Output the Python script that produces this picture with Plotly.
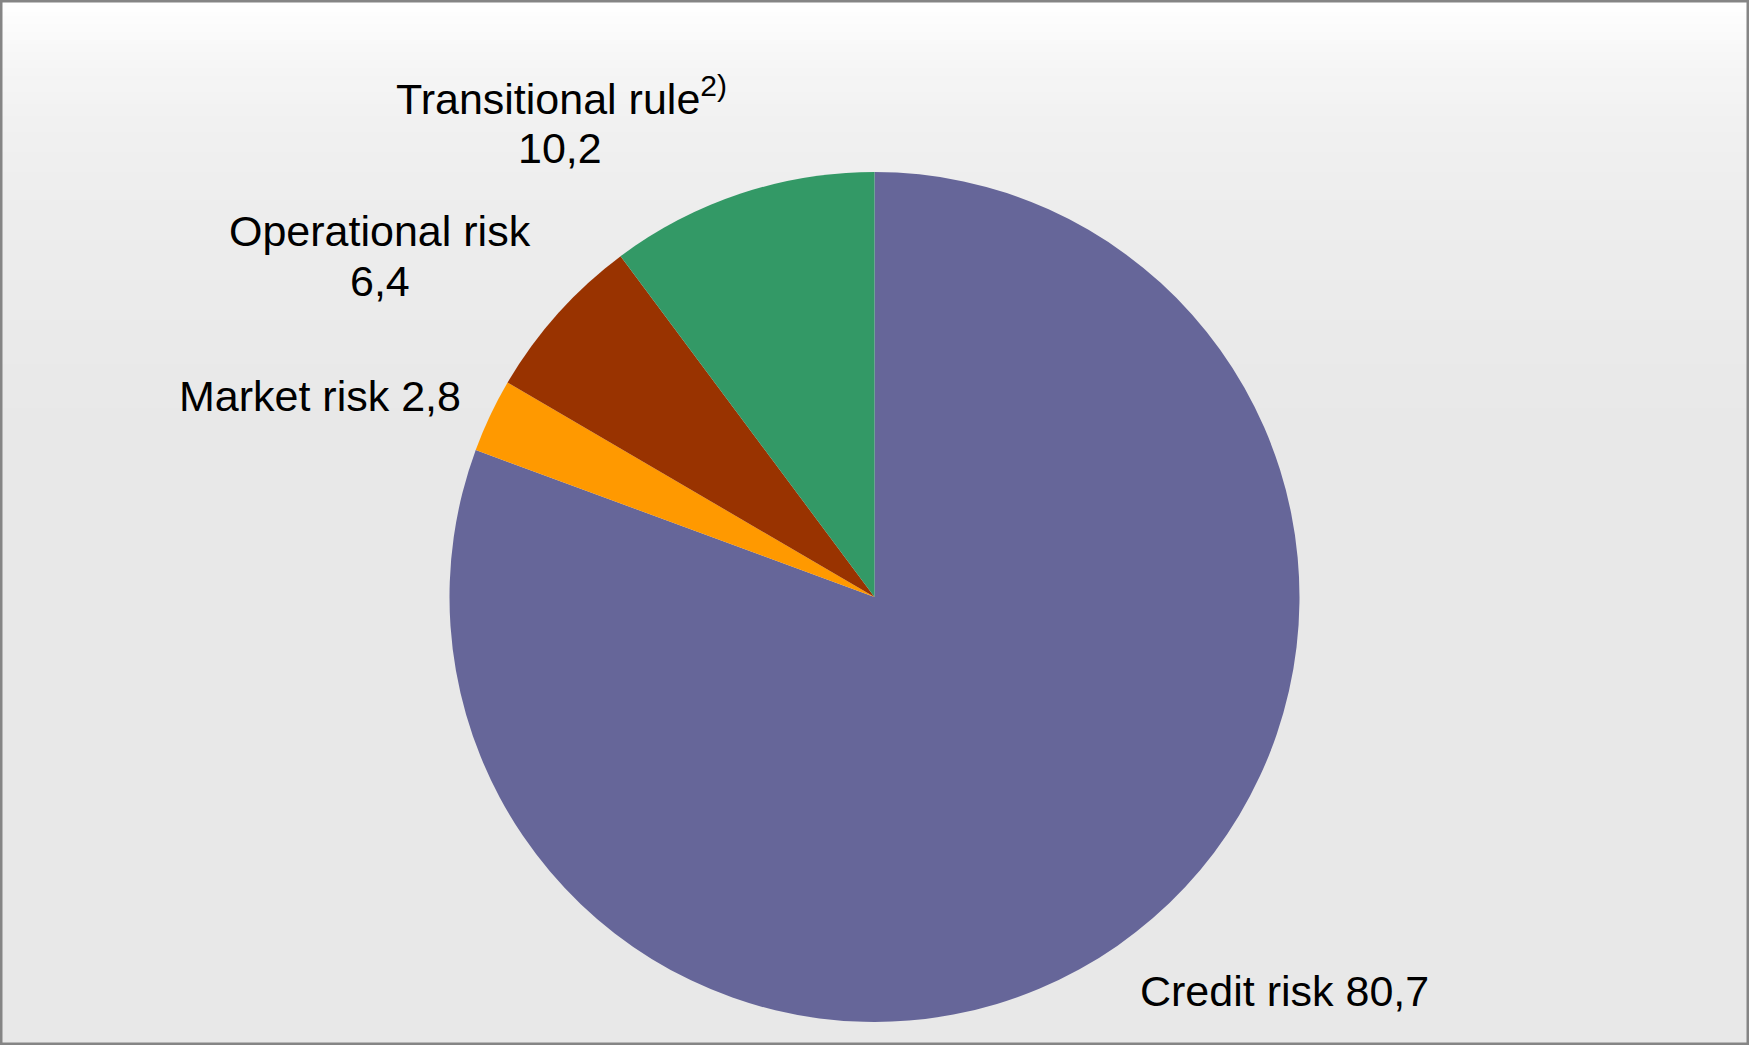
import numpy as np
import plotly.graph_objects as go

# ---- data ----
categories = ["Credit risk", "Market risk", "Operational risk", "Transitional rule"]
values = [80.7, 2.8, 6.4, 10.2]
label_suffix = ["", "", "", "<sup>2)</sup>"]
colors = ["#666699", "#FF9900", "#993300", "#339966"]

W, H = 1749, 1045
FONT = "Arial, Liberation Sans, sans-serif"
FS = 43


def fmt(v):
    return f"{v:.1f}".replace(".", ",")


fig = go.Figure(
    go.Pie(
        labels=categories,
        values=values,
        marker=dict(colors=colors, line=dict(width=0)),
        sort=False,
        direction="clockwise",
        rotation=0,
        textinfo="none",
        hoverinfo="label+value",
        showlegend=False,
        domain=dict(x=[449.5 / W, 1299.5 / W], y=[23 / H, 873 / H]),
    )
)

# ---- background gradient (white at top fading to light gray) ----
stops_y = [0, 35, 70, 125, 180, 300, 430, 1045]
stops_c = [255, 250, 245, 241, 238, 235, 232, 232]
shapes = []
edges = np.arange(0, 440, 4)
for i in range(len(edges) - 1):
    y0, y1 = edges[i], edges[i + 1] + 1
    c = int(round(np.interp((y0 + y1) / 2, stops_y, stops_c)))
    shapes.append(dict(type="rect", xref="paper", yref="paper", x0=0, x1=1,
                       y0=1 - y1 / H, y1=1 - y0 / H, fillcolor=f"rgb({c},{c},{c})",
                       line=dict(width=0), layer="below"))
# border
shapes.append(dict(type="rect", xref="paper", yref="paper", x0=0, x1=1, y0=0, y1=1,
                   line=dict(color="#858585", width=5), fillcolor="rgba(0,0,0,0)", layer="above"))

# ---- labels (text built from the data arrays) ----
# (pixel centre x, pixel middle y) for each text line
label_lines = {
    0: [(f"{categories[0]} {fmt(values[0])}", 1284, 991)],
    1: [(f"{categories[1]} {fmt(values[1])}", 320, 396)],
    2: [(categories[2], 380, 231), (fmt(values[2]), 380, 281)],
    3: [(categories[3] + label_suffix[3], 561, 96), (fmt(values[3]), 560, 148)],
}
annotations = []
for idx, lines in label_lines.items():
    for text, px, py in lines:
        annotations.append(dict(
            text=text, x=px / W, y=1 - py / H, xref="paper", yref="paper",
            xanchor="center", yanchor="middle", showarrow=False,
            font=dict(family=FONT, size=FS, color="#000000"),
        ))

fig.update_layout(
    width=W, height=H, autosize=False,
    margin=dict(l=0, r=0, t=0, b=0),
    paper_bgcolor="#e8e8e8",
    plot_bgcolor="#e8e8e8",
    shapes=shapes,
    annotations=annotations,
    font=dict(family=FONT),
)

fig.write_html("out.html",
               config={"displayModeBar": False},
               post_script="document.body.style.margin='0px';document.body.style.padding='0px';")
